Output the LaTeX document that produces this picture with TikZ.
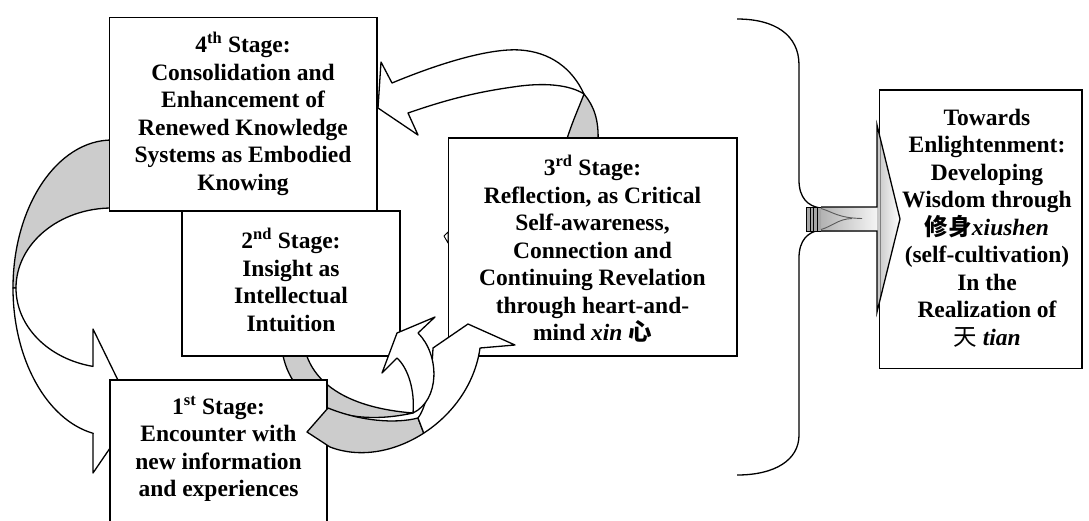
\documentclass[tikz,border=0pt]{standalone}
\usepackage{fontspec}
\setmainfont{Liberation Serif}
\newfontfamily\cjk{Noto Sans CJK SC}
\begin{document}
\begin{tikzpicture}[x=1pt,y=-1pt,
  stagebox/.style={draw=black,fill=white,line width=1.6pt,inner sep=0pt,outer sep=0pt},
  boxtext/.style={align=center,inner sep=0pt,font=\fontsize{23.5}{27.5}\selectfont\bfseries},
  ribbonline/.style={draw=black,line width=1.3pt,line join=round},
  backside/.style={ribbonline,fill=gray!40},
  frontside/.style={ribbonline,fill=white}]
\useasboundingbox (0,0) rectangle (1089,520);
\clip (0,0) rectangle (1089,520);

% loop from the 4th stage back round to the 1st stage
\path[backside] (112,140) .. controls (57.3,140) and (13,206.3) .. (13,288)
  -- (16,288) .. controls (16,243.8) and (59,208) .. (112,208) -- cycle;
\path[frontside] (13,288) .. controls (13,358.9) and (46.5,419.8) .. (93.1,433.3)
  -- (93,473) -- (134,413) -- (93,329) -- (93,366.4)
  .. controls (48.1,358.8) and (16,326.2) .. (16,288) -- cycle;

% arrow from the 3rd stage up to the 4th stage
\path[backside] (584,94) .. controls (594,106) and (599,120) .. (598,142)
  -- (566,142) .. controls (572,122) and (580,105) .. (584,94) -- cycle;
\path[frontside] (392,83) .. controls (440,63) and (490,48) .. (520,50)
  .. controls (550,52) and (572,68) .. (584,94)
  .. controls (570,85) and (545,82) .. (513,87)
  .. controls (470,93) and (440,102) .. (408,113)
  -- (418,135) -- (378,108) -- (381,62) -- cycle;

% back of the arrow leaving the 2nd stage
\path[backside] (282,350) .. controls (290,405) and (345,428) .. (413,413)
  .. controls (350,408) and (314,385) .. (305,350) -- cycle;

% stage boxes
\node[stagebox,minimum width=267.4,minimum height=193.4] (s4) at (243,114) {};
\node[stagebox,minimum width=218.3,minimum height=145.3] (s2) at (290.85,283.35) {};
\node[stagebox,minimum width=288.4,minimum height=218.3] (s3) at (592.5,246.85) {};
\node[stagebox,minimum width=216.7,minimum height=150] (s1) at (218.35,455) {};
\node[stagebox,minimum width=202.7,minimum height=278.3] (goal) at (980.65,229.15) {};

% small tip showing at the left side of the 3rd stage
\path[ribbonline,line width=0.9pt,fill=white] (444,236) -- (448,232) -- (448,243) -- cycle;

% arrow from the 1st stage towards the 3rd stage
\path[backside] (307,432) -- (328,408) .. controls (360,421) and (395,424) .. (418,418)
  -- (423.75,433.1) .. controls (395,451.75) and (360,458.5) .. (330,447) -- cycle;
\path[frontside] (423.75,433.1) .. controls (452.5,414.5) and (475,384) .. (480,348)
  -- (515,345) -- (468,324) -- (433,348)
  .. controls (432,372) and (428,405) .. (418,418) -- cycle;

% front of the arrow rising from the 2nd stage
\path[frontside] (413,413) .. controls (415,390) and (408,368) .. (397,358)
  -- (382,373) -- (397,333) -- (435,317) -- (418,333)
  .. controls (440,355) and (440,400) .. (413,413) -- cycle;

% brace gathering the four stages
\draw[line width=1.3pt] (737,19) .. controls (775,19) and (799,35) .. (799,65)
  -- (799,180) .. controls (799,198) and (808,206) .. (820,208);
\draw[line width=1.3pt] (820,230) .. controls (808,232) and (799,240) .. (799,258)
  -- (799,435) .. controls (799,460) and (775,475) .. (737,475);

% block arrow towards the goal
\fill[gray!70] (806,207) rectangle (821,231);
\foreach \xx in {806,810,813.5,817,821}
  \draw[line width=0.8pt] (\xx,207) -- (\xx,231);
\draw[line width=0.8pt] (806,207) -- (821,207) (806,231) -- (821,231);
\shade[left color=gray!60,right color=gray!8] (821,207) rectangle (877,231);
\shade[left color=gray!45,right color=white] (877,125) -- (900,219) -- (877,312) -- cycle;
\draw[gray,line width=0.8pt] (880.5,140) -- (880.5,298);
\draw[gray!70!black,line width=0.9pt] (821,208.5) .. controls (833,212) and (838,218) .. (862,218.5);
\draw[gray!70!black,line width=0.9pt] (821,229.5) .. controls (833,226) and (838,219) .. (852,218.5);
\draw[line width=1.3pt,line join=miter] (821,207) -- (877,207) -- (877,125) -- (900,219)
  -- (877,312) -- (877,231) -- (821,231);

% texts
\node[boxtext] (t4) at (243,114) {4\textsuperscript{th} Stage:\\Consolidation and\\Enhancement of\\Renewed Knowledge\\Systems as Embodied\\Knowing};
\node[boxtext] (t2) at (291,280) {2\textsuperscript{nd} Stage:\\Insight as\\Intellectual\\Intuition};
\node[boxtext] (t3) at (592.5,249) {3\textsuperscript{rd} Stage:\\Reflection, as Critical\\Self-awareness,\\Connection and\\Continuing Revelation\\through heart-and-\\mind \textit{xin} {\cjk 心}};
\node[boxtext] (t1) at (218.5,449) {1\textsuperscript{st} Stage:\\Encounter with\\new information\\and experiences};
\node[boxtext] (tg) at (987,228) {Towards\\Enlightenment:\\Developing\\Wisdom through\\{\cjk 修身}\textit{xiushen}\\(self-cultivation)\\In the\\Realization of\\{\cjk\mdseries 天} \textit{tian}};
\end{tikzpicture}
\end{document}
